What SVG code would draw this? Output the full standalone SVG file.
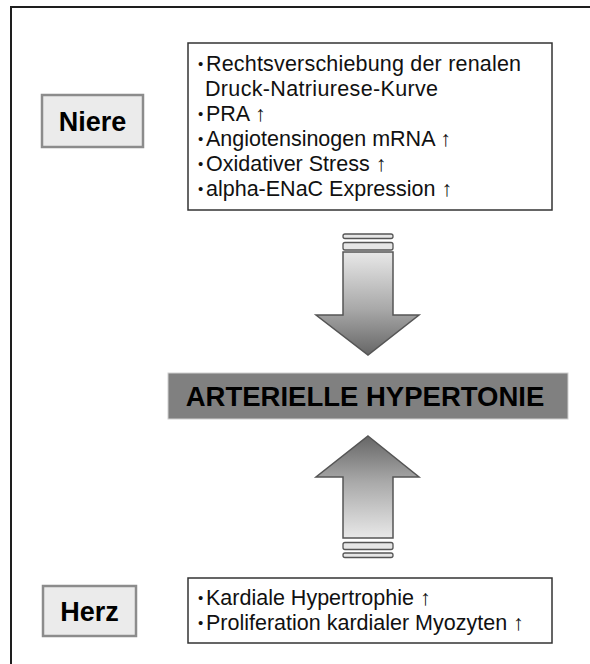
<svg xmlns="http://www.w3.org/2000/svg" width="590" height="664" viewBox="0 0 590 664">
<defs>
<style>
.frame{fill:#fff;stroke:#1e1e1e;stroke-width:2}
.label{fill:#ebebeb;stroke:#8c8c8c;stroke-width:2.5}
.lt{font-family:"Liberation Sans",Arial,sans-serif;font-weight:bold;fill:#000;text-anchor:middle}
.box{fill:#fff;stroke:#333;stroke-width:1.5}
.li{font-family:"Liberation Sans",Arial,sans-serif;font-size:21.5px;fill:#111}
.bu{font-family:"Liberation Sans",Arial,sans-serif;font-size:15px;fill:#111}
.bar{fill:#808080;stroke:#d0d0d0;stroke-width:1}
.arrow{stroke:#555;stroke-width:1.5;stroke-linejoin:miter}
.stripe{fill:#e6e6e6;stroke:#555;stroke-width:1.3}
</style>
<linearGradient id="gDown" x1="0" y1="252" x2="0" y2="355" gradientUnits="userSpaceOnUse">
<stop offset="0" stop-color="#e8e8e8"/>
<stop offset="0.55" stop-color="#a9a9a9"/>
<stop offset="1" stop-color="#666"/>
</linearGradient>
<linearGradient id="gUp" x1="0" y1="538" x2="0" y2="436" gradientUnits="userSpaceOnUse">
<stop offset="0" stop-color="#e8e8e8"/>
<stop offset="0.55" stop-color="#a9a9a9"/>
<stop offset="1" stop-color="#666"/>
</linearGradient>
</defs>
<rect class="frame" x="11" y="7" width="620" height="700"/>
<g id="niere-label">
<rect class="label" x="42" y="95" width="101" height="52"/>
<text class="lt" x="92.5" y="130.5" font-size="27">Niere</text>
</g>
<g id="niere-box">
<rect class="box" x="188" y="43" width="364" height="167"/>
<text class="bu" x="198" y="69">•</text>
<text class="li" x="206" y="71" textLength="315" lengthAdjust="spacing">Rechtsverschiebung der renalen</text>
<text class="li" x="205" y="96" textLength="233" lengthAdjust="spacing">Druck-Natriurese-Kurve</text>
<text class="bu" x="198" y="119">•</text>
<text class="li" x="206" y="121">PRA ↑</text>
<text class="bu" x="198" y="144">•</text>
<text class="li" x="206" y="146">Angiotensinogen mRNA ↑</text>
<text class="bu" x="198" y="169">•</text>
<text class="li" x="206" y="171">Oxidativer Stress ↑</text>
<text class="bu" x="198" y="194">•</text>
<text class="li" x="206" y="196">alpha-ENaC Expression ↑</text>
</g>
<g id="hypertonie">
<rect class="bar" x="168" y="373" width="400" height="46"/>
<text class="lt" x="365" y="406" font-size="27.5">ARTERIELLE HYPERTONIE</text>
</g>
<g id="herz-label">
<rect class="label" x="43" y="586" width="93" height="50"/>
<text class="lt" x="89.5" y="620.5" font-size="27">Herz</text>
</g>
<g id="herz-box">
<rect class="box" x="188" y="578" width="364" height="65"/>
<text class="bu" x="198" y="603">•</text>
<text class="li" x="206" y="605">Kardiale Hypertrophie ↑</text>
<text class="bu" x="198" y="628">•</text>
<text class="li" x="206" y="630">Proliferation kardialer Myozyten ↑</text>
</g>
<g id="connectors">
<g id="arrow-down">
<rect class="stripe" x="343" y="234" width="50" height="4.5" rx="2"/>
<rect class="stripe" x="343" y="242.5" width="50" height="7.5" rx="2"/>
<polygon class="arrow" fill="url(#gDown)" points="343,252 393,252 393,315 419,315 368,355 316,315 343,315"/>
</g>
<g id="arrow-up">
<polygon class="arrow" fill="url(#gUp)" points="368,436 419,477 393,477 393,538 343,538 343,477 316,477"/>
<rect class="stripe" x="343" y="542.5" width="50" height="7" rx="2"/>
<rect class="stripe" x="343" y="553" width="50" height="4.5" rx="2"/>
</g>
</g>
</svg>
